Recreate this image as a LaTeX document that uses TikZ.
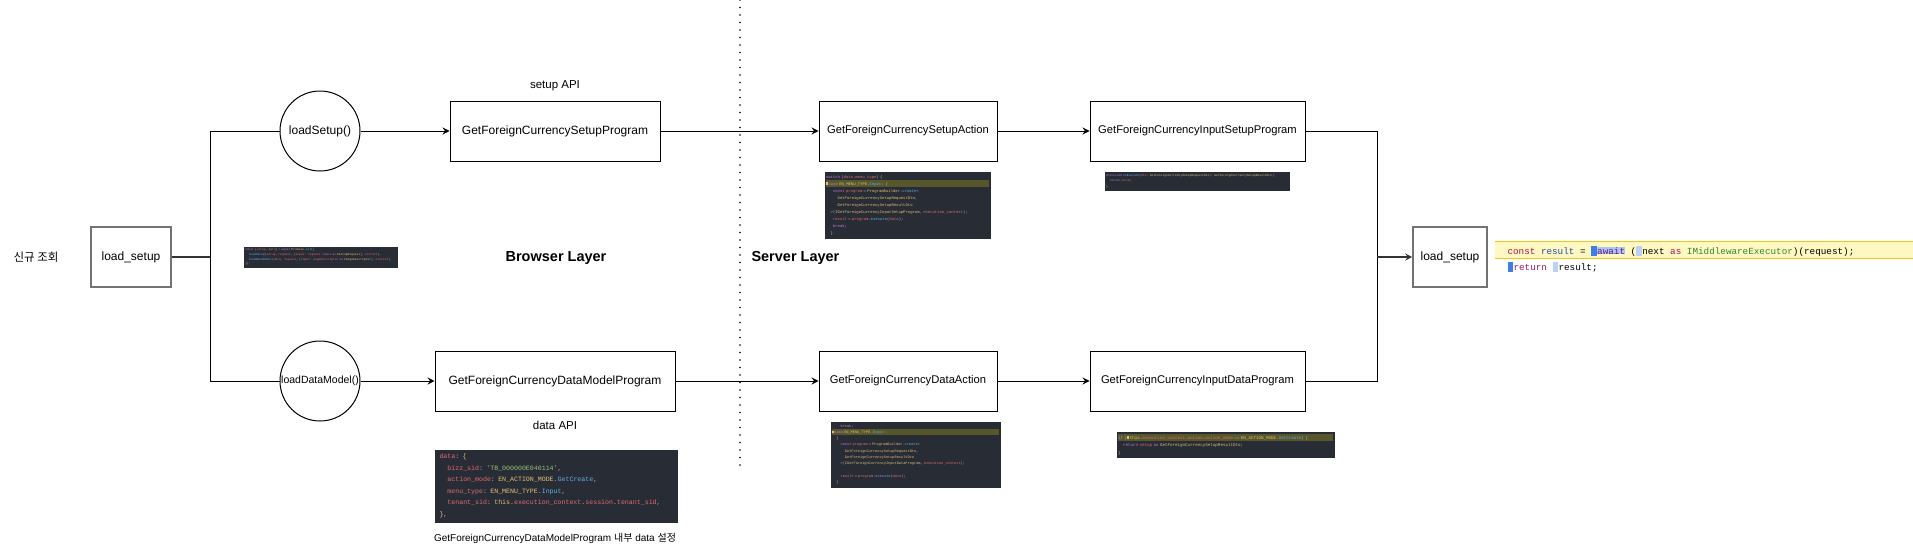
\documentclass[tikz,border=0pt]{standalone}
\usepackage{fontspec}
\setmainfont{Liberation Sans}
\setmonofont{Liberation Mono}
\newfontfamily\krfont{Noto Sans CJK KR}
\usepackage{tikz}
\usetikzlibrary{positioning,arrows.meta}

\definecolor{codebg}{HTML}{282C34}
\definecolor{codefg}{HTML}{ABB2BF}
\definecolor{codehl}{HTML}{57572B}
\definecolor{ckw}{HTML}{C678DD}
\definecolor{cred}{HTML}{E06C75}
\definecolor{cstr}{HTML}{98C379}
\definecolor{cyel}{HTML}{E5C07B}
\definecolor{cblu}{HTML}{61AFEF}
\definecolor{bandfill}{HTML}{FFF8C0}
\definecolor{bandline}{HTML}{F2C419}
\definecolor{ckey}{HTML}{A3155F}
\definecolor{cvar}{HTML}{1C4FB0}
\definecolor{ctype}{HTML}{2E8B2E}
\definecolor{mark}{HTML}{3D7FE6}
\definecolor{selbg}{HTML}{A9C8F0}

\newcommand{\kw}[1]{\textcolor{ckw}{#1}}
\newcommand{\cv}[1]{\textcolor{cred}{#1}}
\newcommand{\cs}[1]{\textcolor{cstr}{#1}}
\newcommand{\cy}[1]{\textcolor{cyel}{#1}}
\newcommand{\cb}[1]{\textcolor{cblu}{#1}}
\newcommand{\ind}[1]{\hspace*{#1em}}
\newcommand{\smk}{\textcolor{cyel}{\rule{0.5em}{0.7em}}\,}
\newcommand{\hlrow}[1]{{\setlength{\fboxsep}{0pt}\colorbox{codehl}{\makebox[\linewidth][l]{\strut#1}}}}
\newcommand{\mk}{\textcolor{mark}{\rule[-1.5pt]{5.5pt}{10pt}}\hspace{0.5pt}}
\newcommand{\mkl}{\textcolor{mark!35}{\rule[-1.5pt]{5.5pt}{10pt}}\hspace{0.5pt}}
\newcommand{\sel}[1]{{\setlength{\fboxsep}{0pt}\colorbox{selbg}{#1}}}

\begin{document}
\begin{tikzpicture}[x=1pt,y=-1pt,line width=1pt]
  \tikzset{progbox/.style={draw, minimum height=60, inner sep=0, font=\fontsize{12}{14}\selectfont}}
  \tikzset{actbox/.style={progbox, font=\fontsize{11.2}{13}\selectfont}}
  \tikzset{callnode/.style={draw, circle, minimum size=80, inner sep=0, font=\fontsize{12}{14}\selectfont}}
  \tikzset{flowarrow/.style={->, >={Stealth[length=7pt,width=7pt,inset=2.5pt]}}}
  \tikzset{thickline/.style={line width=1.6pt, draw=black!80}}
  \tikzset{endbox/.style={progbox, draw=black!55, line width=1.6pt}}
  \tikzset{codesnip/.style={fill=codebg, anchor=north west, inner sep=1.5pt, align=left, text=codefg}}
  \tikzset{layerline/.style={line width=1.6pt, dash pattern=on 0pt off 7.5pt, line cap=round}}

  \useasboundingbox (0,0) rectangle (1913,554);

  % browser layer
  \node[font=\fontsize{11.5}{14}\selectfont\krfont] (title) at (36,257) {신규 조회};
  \node[endbox, minimum width=80] (start) at (131,257) {load\_setup};
  \coordinate (fork) at (210,257);
  \node[callnode] (setupcall) at (320,131) {loadSetup()};
  \node[callnode, font=\fontsize{10.5}{12}\selectfont] (datacall) at (320,381) {loadDataModel()};
  \node[progbox, minimum width=210] (setupprog) at (555,131) {GetForeignCurrencySetupProgram};
  \node[progbox, minimum width=240] (dataprog) at (555,381) {GetForeignCurrencyDataModelProgram};
  \node[above=6pt of setupprog, font=\fontsize{11.5}{14}\selectfont] (setupapi) {setup API};
  \node[below=6pt of dataprog, font=\fontsize{11.5}{14}\selectfont] (dataapi) {data API};
  \node[font=\bfseries\fontsize{14.5}{17}\selectfont] (browser) at (556,258) {Browser Layer};

  % divider
  \coordinate (divtop) at (740,0);
  \coordinate (divbot) at (740,472);
  \draw[layerline] (divtop) -- (divbot);

  % server layer
  \node[font=\bfseries\fontsize{14.5}{17}\selectfont, anchor=west, inner sep=0] (server) at (751,258) {Server Layer};
  \node[actbox, minimum width=178] (setupact) at (908,131) {GetForeignCurrencySetupAction};
  \node[actbox, minimum width=178] (dataact) at (908,381) {GetForeignCurrencyDataAction};
  \node[actbox, minimum width=215] (insetup) at (1197.5,131) {GetForeignCurrencyInputSetupProgram};
  \node[actbox, minimum width=215] (indata) at (1197.5,381) {GetForeignCurrencyInputDataProgram};
  \coordinate (join) at (1377,257);
  \node[endbox, minimum width=74] (finish) at (1450,257) {load\_setup};

  % connectors
  \draw[thickline] (start) -- (fork);
  \draw (fork) |- (setupcall);
  \draw (fork) |- (datacall);
  \draw[flowarrow] (setupcall) -- (setupprog);
  \draw[flowarrow] (datacall) -- (dataprog);
  \draw[flowarrow] (setupprog) -- (setupact);
  \draw[flowarrow] (dataprog) -- (dataact);
  \draw[flowarrow] (setupact) -- (insetup);
  \draw[flowarrow] (dataact) -- (indata);
  \draw (insetup) -| (join);
  \draw (indata) -| (join);
  \draw[thickline, flowarrow] (join) -- (finish);

  % code captures
  \node[codesnip, text width=151, minimum height=21, font=\fontsize{3}{4.6}\selectfont\ttfamily] (promisecode) at (243,246)
    {\kw{const} [\cv{setup}, \cv{data}] = \kw{await} \cy{Promise}.\cb{all}([\\
     \ind{1.2}\cb{loadSetup}(\cv{setup}, \cv{request}, \{\cv{input}: \cv{request}.\cv{input} \kw{as} \cy{ISetupRequest}\}, \cv{context}),\\
     \ind{1.2}\cb{loadDataModel}(\cv{data}, \cv{request}, \{\cv{input}: \cv{pageDescriptor} \kw{as} \cy{IPageDescriptor}\}, \cv{context}),\\
     \cy{]});};
  \node[codesnip, text width=163, minimum height=67, font=\fontsize{3.9}{7}\selectfont\ttfamily] (setupactcode) at (824,171)
    {\kw{switch} (\cv{data}.\cv{menu\_type}) \cy{\{}\\
     \hlrow{\smk\kw{case} \cy{EN\_MENU\_TYPE}.\cb{Input}: \{}\\
     \ind{1.8}\kw{const} \cv{program} = \cy{ProgramBuilder}.\cb{create}<\\
     \ind{3}\cy{GetForeignCurrencySetupRequestDto},\\
     \ind{3}\cy{GetForeignCurrencySetupResultDto}\\
     \ind{1.2}>(\cy{IGetForeignCurrencyInputSetupProgram}, \cv{execution\_context});\\
     \ind{1.8}\cv{result} = \cv{program}.\cb{execute}(\cv{data});\\
     \ind{1.8}\kw{break};\\
     \ind{1.2}\cy{\}}};
  \node[codesnip, text width=182, minimum height=19, font=\fontsize{3}{5.5}\selectfont\ttfamily] (insetupcode) at (1104,171)
    {\kw{protected} \cb{onExecute}(\cv{dto}: \cy{GetForeignCurrencySetupRequestDto}): \cy{GetForeignCurrencySetupResultDto} \{\\
     \ind{1.2}\kw{return} \cv{setup};\\
     \cy{\}}};
  \node[codesnip, text width=167, minimum height=66, font=\fontsize{3.6}{6.3}\selectfont\ttfamily] (dataactcode) at (830,421)
    {\ind{2.4}\kw{break};\\
     \hlrow{\smk\kw{case} \cy{EN\_MENU\_TYPE}.\cb{Input}:}\\
     \ind{1.2}\cy{\{}\\
     \ind{2.4}\kw{const} \cv{program} = \cy{ProgramBuilder}.\cb{create}<\\
     \ind{3.6}\cy{GetForeignCurrencySetupRequestDto},\\
     \ind{3.6}\cy{GetForeignCurrencySetupResultDto}\\
     \ind{2.4}>(\cy{IGetForeignCurrencyInputDataProgram}, \cv{execution\_context});\\
     \mbox{}\\
     \ind{2.4}\cv{result} = \cv{program}.\cb{execute}(\cv{data});\\
     \ind{1.2}\cy{\}}};
  \node[codesnip, text width=215, minimum height=26, font=\fontsize{4.2}{7.5}\selectfont\ttfamily] (indatacode) at (1116,431)
    {\hlrow{\kw{if} (\smk\cy{this}.\cv{execution\_context}.\cv{action}.\cv{action\_mode} == \cy{EN\_ACTION\_MODE}.\cb{GetCreate}) \{}\\
     \ind{1.2}\kw{return} \cv{setup} \kw{as} \cy{GetForeignCurrencySetupResultDto};\\
     \}};
  \node[codesnip, inner xsep=5pt, text width=233, minimum height=73, font=\fontsize{6.6}{11.5}\selectfont\ttfamily] (datacode) at (434,449)
    {\cv{data}: \cy{\{}\\
     \ind{1.2}\cv{bizz\_sid}: \cs{'TB\_000000E040114'},\\
     \ind{1.2}\cv{action\_mode}: \cy{EN\_ACTION\_MODE}.\cb{GetCreate},\\
     \ind{1.2}\cv{menu\_type}: \cy{EN\_MENU\_TYPE}.\cb{Input},\\
     \ind{1.2}\cv{tenant\_sid}: \cy{this}.\cv{execution\_context}.\cv{session}.\cv{tenant\_sid},\\
     \cy{\}},};
  \node[font=\fontsize{10}{12}\selectfont] (datanote) at (555,538) {GetForeignCurrencyDataModelProgram {\krfont 내부} data {\krfont 설정}};

  % middleware code
  \fill[bandfill] (1495,241) rectangle (1913,258);
  \draw[bandline] (1495,241) -- (1913,241) (1495,258) -- (1913,258);
  \node[anchor=base west, inner sep=0, font=\fontsize{9.3}{11}\selectfont\ttfamily] (resline) at (1507,254)
    {\textcolor{ckey}{const} \textcolor{cvar}{result} = \mk\sel{\textcolor{ckey!70!blue}{await}} (\mkl next \textcolor{ckey}{as} \textcolor{ctype}{IMiddlewareExecutor})(request);};
  \node[anchor=base west, inner sep=0, font=\fontsize{9.3}{11}\selectfont\ttfamily] (retline) at (1507,270)
    {\mk\textcolor{ckey}{return} \mkl result;};
\end{tikzpicture}
\end{document}
